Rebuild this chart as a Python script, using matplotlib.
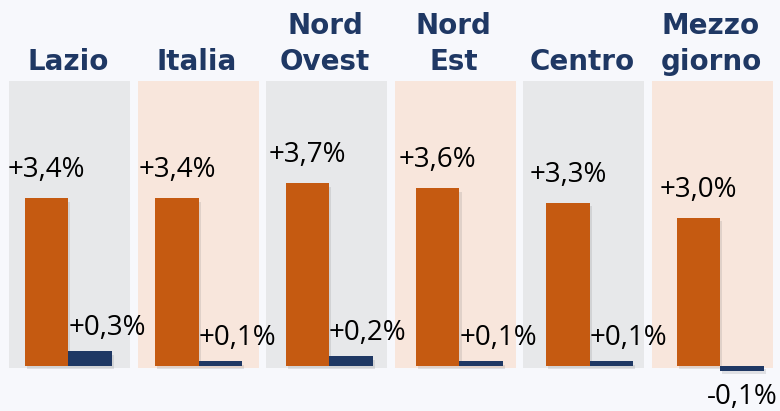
import matplotlib.pyplot as plt
from matplotlib.patches import Rectangle
import matplotlib.patheffects as pe

# regioni e variazioni percentuali
regions = ["Lazio", "Italia", "Nord\nOvest", "Nord\nEst", "Centro", "Mezzo\ngiorno"]
orange_vals = [3.4, 3.4, 3.7, 3.6, 3.3, 3.0]
navy_vals = [0.3, 0.1, 0.2, 0.1, 0.1, -0.1]

BG = "#F7F8FC"
GRAY = "#E7E8EA"
PEACH = "#F8E6DC"
ORANGE = "#C55A11"
NAVY = "#1F3864"

W, H = 780, 411
step = 130.4          # px between groups
x0 = 68.25            # px of first group centre
ppu = 49.4            # px per percentage point
base = 45             # px of baseline from bottom
bw = 43.5 / step

fig = plt.figure(figsize=(7.8, 4.11), dpi=100, facecolor=BG)
ax = fig.add_axes([0, 0, 1, 1])
ax.set_facecolor("none")
ax.set_xlim(-x0 / step, (W - x0) / step)
ax.set_ylim(-base / ppu, (H - base) / ppu)
ax.axis("off")

def fmt(v):
    s = f"{v:+.1f}".replace(".", ",")
    return s + "%"

shadow = [pe.SimplePatchShadow(offset=(1.5, -2.5), shadow_rgbFace="#777777", alpha=0.18), pe.Normal()]

for i, name in enumerate(regions):
    # background panel
    px = 9 + 128.6 * i
    ax.add_patch(Rectangle((px / W, 43 / H), 121 / W, 287 / H, transform=fig.transFigure,
                           facecolor=GRAY if i % 2 == 0 else PEACH, edgecolor="none", zorder=0))
    fig.text((px + 59) / W, 335 / H, name, ha="center", va="bottom", fontsize=20,
             fontweight="bold", color=NAVY, family="DejaVu Sans", linespacing=1.37)

    bo = ax.bar(i - bw / 2, orange_vals[i], width=bw, color=ORANGE, zorder=2)
    bn = ax.bar(i + bw / 2, navy_vals[i], width=bw, color=NAVY, zorder=2)
    for b in list(bo) + list(bn):
        b.set_path_effects(shadow)
        b.set_clip_on(False)

    ax.annotate(fmt(orange_vals[i]), (i - bw / 2, orange_vals[i]), xytext=(0, 15),
                textcoords="offset points", ha="center", va="baseline",
                fontsize=20, family="Open Sans", color="black", zorder=3)
    nv = navy_vals[i]
    if nv >= 0:
        ax.annotate(fmt(nv), (i, nv), xytext=(0, 11.5), textcoords="offset points",
                    ha="left", va="baseline", fontsize=20, family="Open Sans",
                    color="black", zorder=3)
    else:
        ax.annotate(fmt(nv).replace("+", ""), (i + bw / 2, nv), xytext=(0, -8.5),
                    textcoords="offset points", ha="center", va="top", fontsize=20,
                    family="Open Sans", color="black", zorder=3)

fig.savefig("out.png", dpi=100, facecolor=BG)
